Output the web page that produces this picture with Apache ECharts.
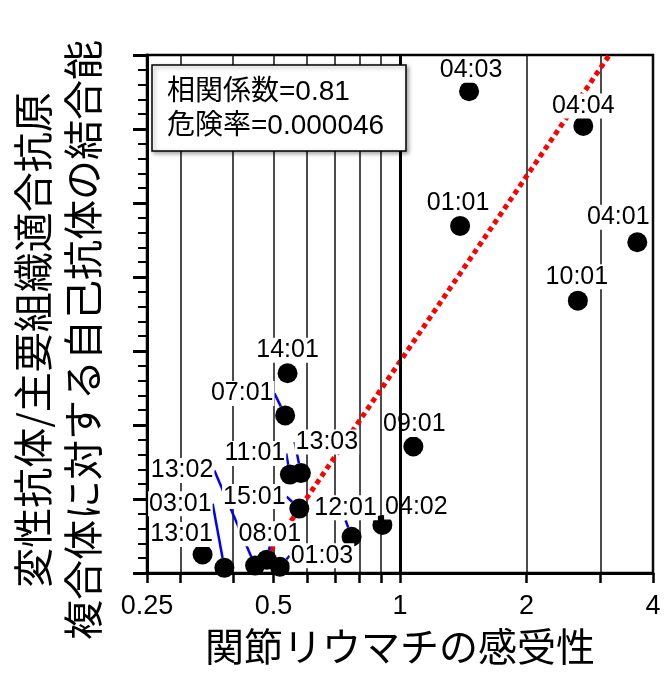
<!DOCTYPE html>
<html>
<head>
<meta charset="utf-8">
<script src="https://cdn.jsdelivr.net/npm/echarts@6/dist/echarts.min.js"></script>
<style>
  html, body { margin: 0; padding: 0; background: #fff; }
  #chart { width: 670px; height: 684px; }
</style>
</head>
<body>
<div id="chart"></div>
<script>
// HLA-DRB1 alleles: RA susceptibility (log scale) vs autoantibody binding
const alleles = ['04:03', '04:04', '01:01', '04:01', '10:01', '14:01', '07:01', '09:01', '11:01',
  '13:03', '15:01', '12:01', '04:02', '13:01', '03:01', '13:02', '08:01', '01:03']
const susceptibility = [1.46, 2.73, 1.39, 3.67, 2.65, 0.54, 0.533, 1.076, 0.547,
  0.581, 0.576, 0.767, 0.908, 0.339, 0.382, 0.452, 0.482, 0.518]
const binding = [6.51, 6.04, 4.69, 4.47, 3.68, 2.70, 2.13, 1.71, 1.33,
  1.35, 0.87, 0.49, 0.65, 0.25, 0.07, 0.10, 0.18, 0.085]

const trendX = [0.453, 3.15]
const trendY = [0, 7]

const xTickValues = [0.25, 0.3, 0.4, 0.5, 0.6, 0.7, 0.8, 0.9, 1, 2, 3, 4]
const xLabelValues = [0.25, 0.5, 1, 2, 4]

// label placement (px offset from dot centre) and whether a leader line is drawn
const labelOffsets = [[2, -21], [0, -20], [-2, -23], [-19, -25], [-1, -24], [0, -23], [-43, -22], [1, -22], [-35, -21],
  [26, -31], [-45, -12], [-6, -29], [34, -18], [-21, -20], [-44, -64], [-73, -95], [3, -26], [42, -11]]
const hasLeader = [false, false, false, false, false, false, true, false, true,
  true, true, true, false, false, true, true, true, true]

const numFont = '"Liberation Sans", Arial, sans-serif'
const cjkFont = '"Liberation Sans", "Noto Sans CJK JP", sans-serif'

const chart = echarts.init(document.getElementById('chart'))

chart.setOption({
  animation: false,
  backgroundColor: '#fff',
  grid: { left: 147, right: 17, top: 55, bottom: 111, show: true, borderColor: '#000', borderWidth: 2.5 },
  xAxis: {
    type: 'log', logBase: 2, min: 0.25, max: 4,
    name: '関節リウマチの感受性', nameLocation: 'middle', nameGap: 58,
    nameTextStyle: { fontSize: 39, color: '#000', fontFamily: cjkFont },
    axisLine: { lineStyle: { color: '#000', width: 3 } },
    axisTick: { customValues: xTickValues, length: 10, lineStyle: { color: '#000', width: 2.5 } },
    axisLabel: {
      customValues: xLabelValues, fontSize: 27, margin: 20, color: '#000', fontFamily: numFont,
      formatter: (v) => String(+Number(v).toPrecision(3)),
    },
    splitLine: { show: true, lineStyle: { color: '#111', width: 1.5 } },
    minorTick: { show: false },
  },
  yAxis: {
    type: 'value', min: 0, max: 7, interval: 1,
    axisLine: { lineStyle: { color: '#000', width: 3 } },
    axisTick: { length: 14, lineStyle: { color: '#000', width: 3 } },
    minorTick: { show: true, splitNumber: 5, length: 9, lineStyle: { color: '#000', width: 2 } },
    axisLabel: { show: false },
    splitLine: { show: false },
  },
  series: [
    {
      // bold reference line at x = 1
      type: 'line', data: [], z: 1, silent: true,
      markLine: {
        symbol: 'none', silent: true, label: { show: false },
        lineStyle: { color: '#000', width: 3, type: 'solid' },
        data: [{ xAxis: 1 }],
      },
    },
    {
      type: 'line', z: 2, silent: true,
      data: trendX.map((x, i) => [x, trendY[i]]),
      symbol: 'none',
      lineStyle: { color: '#ff0000', width: 5, type: [5, 4] },
    },
    {
      type: 'scatter', z: 3,
      symbol: 'circle', symbolSize: 20,
      itemStyle: { color: '#000', opacity: 1 },
      data: alleles.map((name, i) => ({
        name,
        value: [susceptibility[i], binding[i]],
        labelLine: { show: hasLeader[i] },
      })),
      label: {
        show: true, position: 'inside', formatter: '{b}',
        fontSize: 25, color: '#000', fontFamily: numFont,
        backgroundColor: '#fff', padding: [0, 1],
      },
      labelLine: { show: false, lineStyle: { color: '#0000ff', width: 2.5, opacity: 1 } },
      labelLayout: (p) => ({ dx: labelOffsets[p.dataIndex][0], dy: labelOffsets[p.dataIndex][1] }),
    },
  ],
  graphic: [
    {
      type: 'rect', z: 100,
      shape: { x: 152, y: 65, width: 254, height: 86 },
      style: {
        fill: '#fff', stroke: '#000', lineWidth: 1.5,
        shadowBlur: 4, shadowColor: 'rgba(0,0,0,0.35)', shadowOffsetX: 2, shadowOffsetY: 2,
      },
    },
    {
      type: 'text', z: 101, x: 167, y: 109,
      style: {
        text: '相関係数=0.81\n危険率=0.000046',
        font: '28px ' + cjkFont, fill: '#000',
        textVerticalAlign: 'middle', lineHeight: 34,
      },
    },
    {
      type: 'text', z: 101, x: 58, y: 340, rotation: Math.PI / 2,
      style: {
        text: '変性抗体/主要組織適合抗原\n複合体に対する自己抗体の結合能',
        font: '40px "Noto Sans CJK JP", sans-serif', fill: '#000',
        textAlign: 'center', textVerticalAlign: 'middle', lineHeight: 50,
      },
    },
  ],
})
</script>
</body>
</html>
